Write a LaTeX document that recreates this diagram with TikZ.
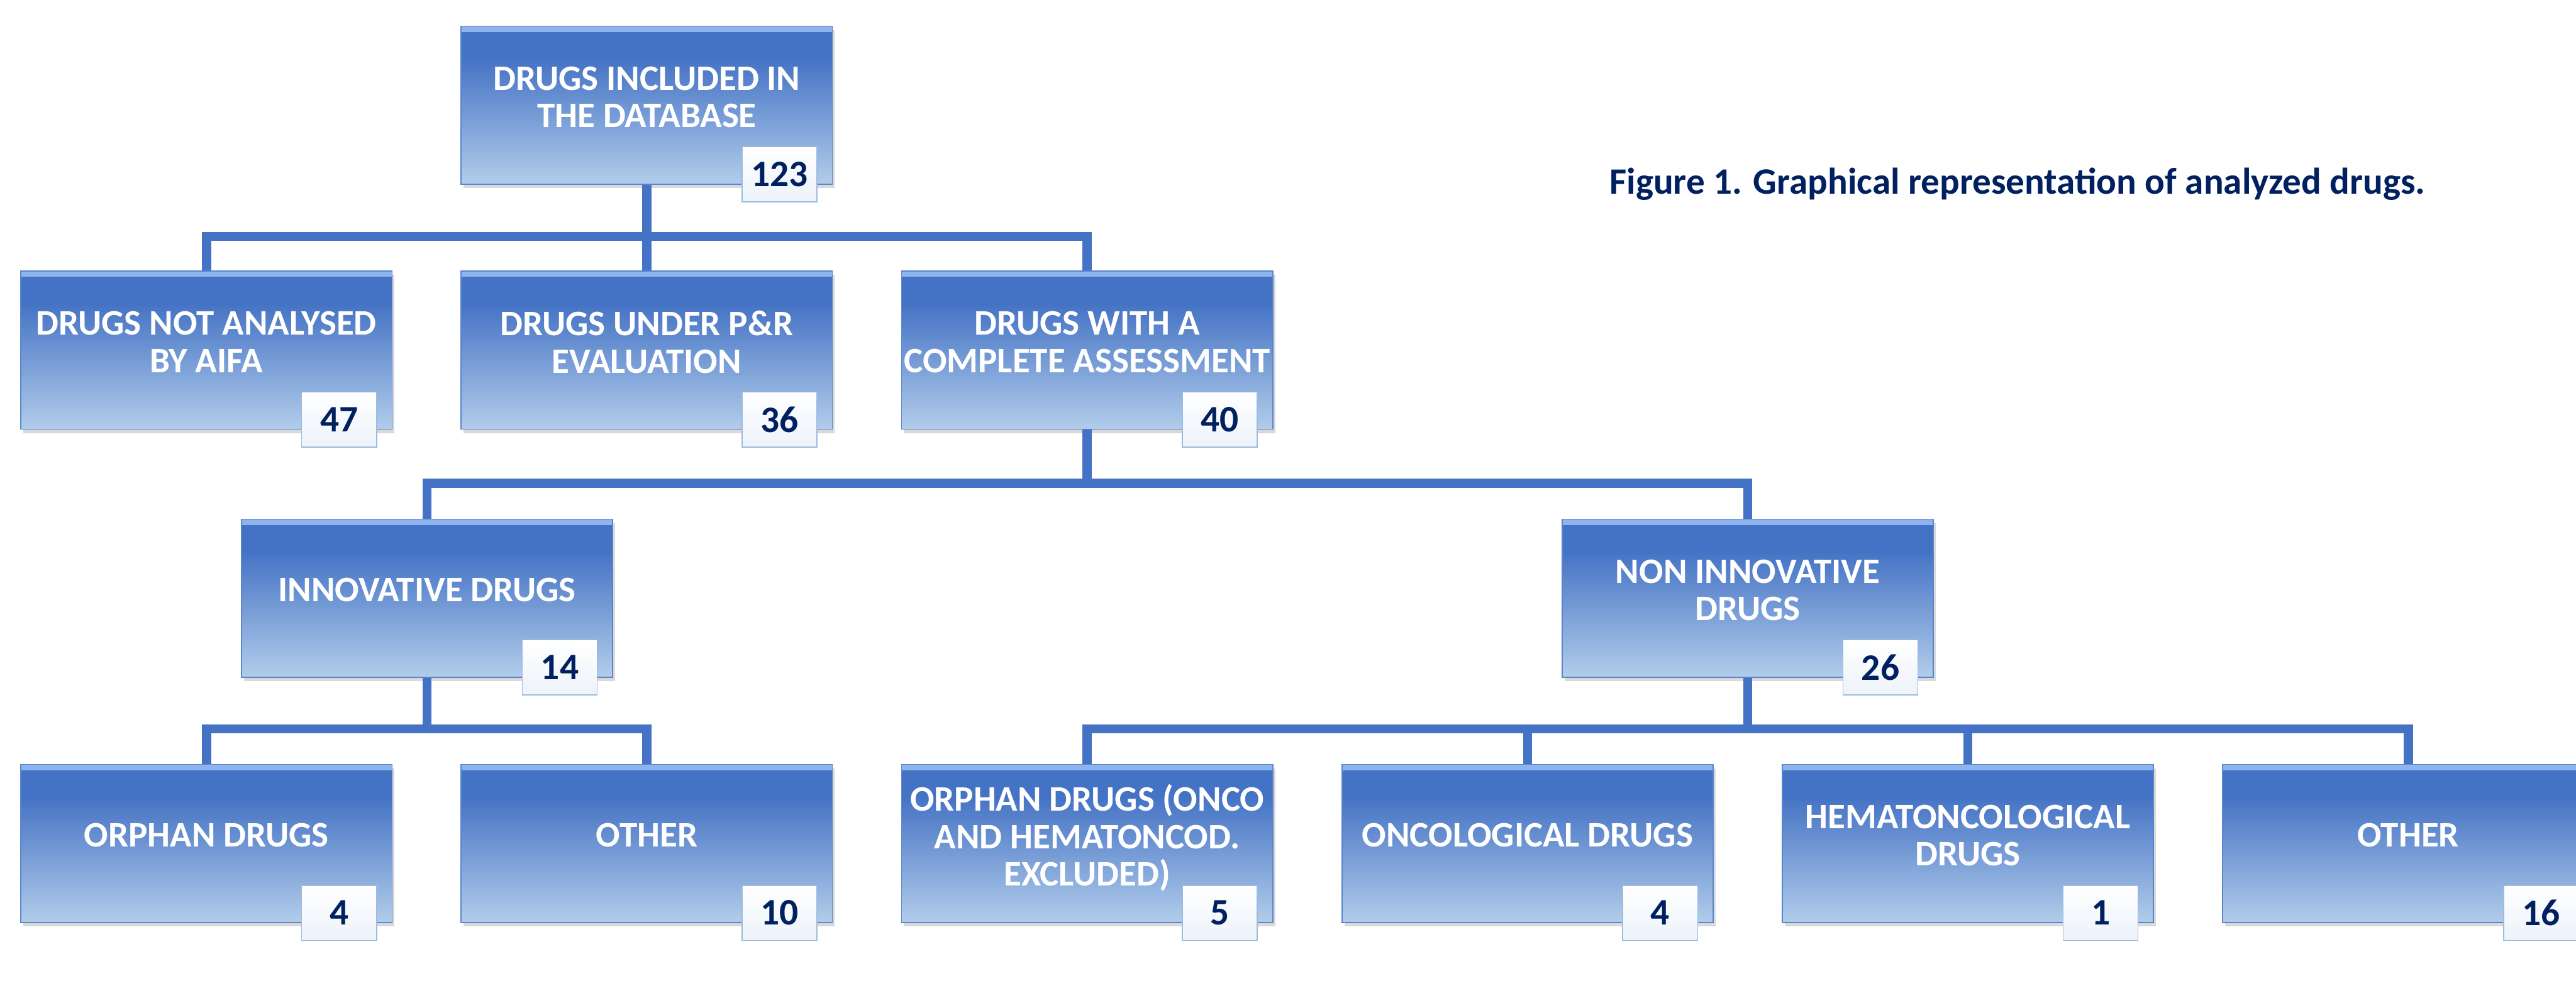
\documentclass[tikz,border=0pt]{standalone}
\usepackage{fontspec}
\setmainfont{Carlito}
\usetikzlibrary{positioning, shadows, calc}
\definecolor{drugblue}{HTML}{4472C4}
\definecolor{druglight}{HTML}{B2CDEB}
\definecolor{drugedge}{HTML}{8EB4F0}
\definecolor{drugline}{HTML}{5A84CC}
\definecolor{numnavy}{HTML}{002060}
\definecolor{numfill}{HTML}{EDF3FA}
\definecolor{numline}{HTML}{9DBBE0}
\pgfdeclareverticalshading{drugshade}{100bp}{color(0bp)=(druglight); color(25bp)=(druglight); color(65bp)=(drugblue); color(100bp)=(drugblue)}
\newcommand{\boxtext}[1]{\parbox[b]{7.6cm}{\centering #1}}
\tikzset{
drug/.style={rectangle, shading=drugshade, draw=drugline, line width=0.6pt, minimum width=7.68cm, minimum height=3.27cm, inner sep=0pt, text=white, font=\fontsize{21.1}{22}\selectfont\bfseries, text depth=0.34cm, drop shadow={shadow xshift=0.05cm, shadow yshift=-0.08cm, opacity=0.3}, path picture={\fill[drugedge] (path picture bounding box.north west) rectangle ([yshift=-0.12cm]path picture bounding box.north east);}}, % the blue boxes
count/.style={rectangle, top color=white, bottom color=numfill, draw=numline, line width=0.6pt, minimum width=1.55cm, minimum height=1.14cm, inner sep=0pt, text=numnavy, font=\fontsize{22}{22}\selectfont\bfseries, anchor=south east}, % the small number boxes
conn/.style={draw=drugblue, line width=0.19cm}, % org chart lines
node distance=9.11cm, % spacing of sibling boxes
}

\begin{document}
\begin{tikzpicture}
  \useasboundingbox (0,0) rectangle (53.29,-20.54);

  % level 1
  \node[drug] (db) at (13.38,-2.175) {\boxtext{DRUGS INCLUDED IN\\THE DATABASE}};
  % level 2
  \node[drug] (nota) at (4.27,-7.245) {\boxtext{DRUGS NOT ANALYSED\\BY AIFA}};
  \node[drug, right of=nota] (pr) {\boxtext{DRUGS UNDER P\&R\\EVALUATION}};
  \node[drug, right of=pr] (full) {\boxtext{DRUGS WITH A\\COMPLETE ASSESSMENT}};
  % level 3
  \node[drug] (inno) at (8.835,-12.375) {\boxtext{INNOVATIVE DRUGS}};
  \node[drug] (noninno) at (36.155,-12.375) {\boxtext{NON INNOVATIVE\\DRUGS}};
  % level 4
  \node[drug] (orph) at (4.27,-17.45) {\boxtext{ORPHAN DRUGS}};
  \node[drug, right of=orph] (oth1) {\boxtext{OTHER}};
  \node[drug, right of=oth1] (orphx) {\boxtext{ORPHAN DRUGS (ONCO\\AND HEMATONCOD.\\EXCLUDED)}};
  \node[drug, right of=orphx] (onco) {\boxtext{ONCOLOGICAL DRUGS}};
  \node[drug, right of=onco] (hemato) {\boxtext{HEMATONCOLOGICAL\\DRUGS}};
  \node[drug, right of=hemato] (oth2) {\boxtext{OTHER}};

  % numbers
  \node[count] (n123) at ($(db.south east)+(-0.32,-0.37)$) {123};
  \node[count] (n47) at ($(nota.south east)+(-0.32,-0.37)$) {47};
  \node[count] (n36) at ($(pr.south east)+(-0.32,-0.37)$) {36};
  \node[count] (n40) at ($(full.south east)+(-0.32,-0.37)$) {40};
  \node[count] (n14) at ($(inno.south east)+(-0.32,-0.37)$) {14};
  \node[count] (n26) at ($(noninno.south east)+(-0.32,-0.37)$) {26};
  \node[count] (n4a) at ($(orph.south east)+(-0.32,-0.37)$) {4};
  \node[count] (n10) at ($(oth1.south east)+(-0.32,-0.37)$) {10};
  \node[count] (n5) at ($(orphx.south east)+(-0.32,-0.37)$) {5};
  \node[count] (n4b) at ($(onco.south east)+(-0.32,-0.37)$) {4};
  \node[count] (n1) at ($(hemato.south east)+(-0.32,-0.37)$) {1};
  \node[count] (n16) at ($(oth2.south east)+(-0.32,-0.37)$) {16};

  % title
  \node[anchor=base west, inner sep=0pt, text=numnavy, font=\fontsize{21.9}{26}\selectfont\bfseries] (title) at (33.29,-4.01) {Figure 1. Graphical representation of analyzed drugs.};

  % connectors
  \coordinate (bus1) at (0,-4.89);
  \coordinate (bus2) at (0,-10.00);
  \coordinate (bus3) at (0,-15.08);
  \draw[conn] (db.south) -- (db.south |- bus1);
  \draw[conn] (nota.north) |- (full.north |- bus1) -- (full.north);
  \draw[conn] (pr.north) -- (pr.north |- bus1);

  \draw[conn] (full.south) -- (full.south |- bus2);
  \draw[conn] (inno.north) |- (noninno.north |- bus2) -- (noninno.north);

  \draw[conn] (inno.south) -- (inno.south |- bus3);
  \draw[conn] (orph.north) |- (oth1.north |- bus3) -- (oth1.north);
  \draw[conn] (noninno.south) -- (noninno.south |- bus3);
  \draw[conn] (orphx.north) |- (oth2.north |- bus3) -- (oth2.north);
  \draw[conn] (onco.north) -- (onco.north |- bus3);
  \draw[conn] (hemato.north) -- (hemato.north |- bus3);
\end{tikzpicture}
\end{document}
